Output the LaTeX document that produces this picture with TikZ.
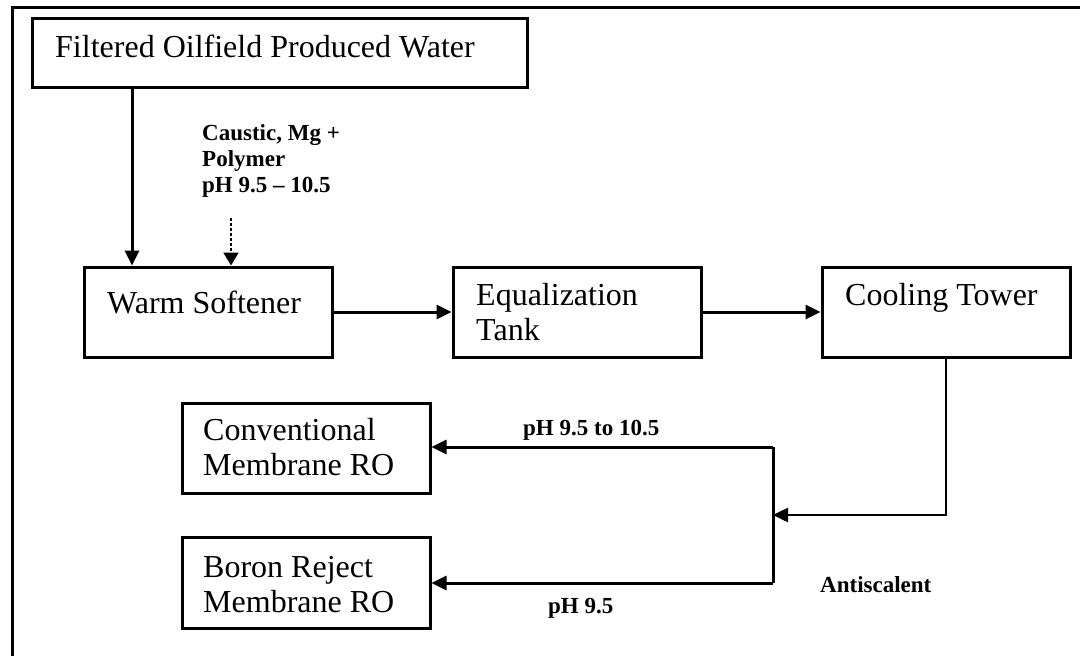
\documentclass[tikz,border=0pt]{standalone}
\usepackage{fontspec}
\setmainfont{Liberation Serif}
\usetikzlibrary{arrows.meta}
\begin{document}
\begin{tikzpicture}[x=1pt,y=-1pt,
  stagebox/.style={draw, line width=3pt, inner sep=0pt, minimum width=248pt, minimum height=90pt},
  boxtext/.style={inner sep=0pt, anchor=base west, align=left, font=\fontsize{32}{35}\selectfont},
  note/.style={inner sep=0pt, anchor=base west, align=left, font=\fontsize{23}{26}\selectfont\bfseries},
  flow/.style={line width=3pt, -{Triangle[length=15pt,width=14pt]}},
  dosing/.style={line width=2pt, dash pattern=on 3pt off 2pt, -{Triangle[length=13pt,width=15pt]}},
  pipe/.style={line width=3pt},
  frame/.style={line width=3pt}]
\useasboundingbox (0,0) rectangle (1080,656);

% page frame
\draw[frame] (12,656) -- (12,7) -- (1080,7);

% process units
\node[stagebox, minimum width=495pt, minimum height=69pt] (src) at (279.5,52.5) {};
\node[stagebox] (soft) at (208,312) {};
\node[stagebox] (eq) at (577,312) {};
\node[stagebox] (cool) at (946,312) {};
\node[stagebox] (conv) at (306,448) {};
\node[stagebox, minimum height=91pt] (boron) at (306,582.5) {};

% unit captions (multi-line captions are placed by their last baseline)
\node[boxtext] (srct) at (55,57) {Filtered Oilfield Produced Water};
\node[boxtext] (softt) at (107,313) {Warm Softener};
\node[boxtext] (eqt) at (476,340) {Equalization\\Tank};
\node[boxtext] (coolt) at (845,305) {Cooling Tower};
\node[boxtext] (convt) at (203,475) {Conventional\\Membrane RO};
\node[boxtext] (boront) at (203,612) {Boron Reject\\Membrane RO};

% chemical dosing and stream notes
\node[note] (chem) at (202,192) {Caustic, Mg +\\Polymer\\pH 9.5 – 10.5};
\node[note] (phhi) at (523,435) {pH 9.5 to 10.5};
\node[note] (phlo) at (548,613) {pH 9.5};
\node[note] (anti) at (820,592) {Antiscalent};

% connection points
\coordinate (feedx) at (132,0);
\coordinate (dose) at (231,218);
\coordinate (split) at (773,515);
\coordinate (splittop) at (773,447);
\coordinate (splitbot) at (773,583);

% flows
\draw[flow] (src.south -| feedx) -- (soft.north -| feedx);
\draw[dosing] (dose) -- (soft.north -| dose);
\draw[flow] (soft.east) -- (eq.west);
\draw[flow] (eq.east) -- (cool.west);
\draw[flow, line width=2.5pt] (cool.south) -- (cool.south |- split) -- (split);
\draw[pipe] (splittop) -- (splitbot);
\draw[flow] (splittop) -- (splittop -| conv.east);
\draw[flow] (splitbot) -- (splitbot -| boron.east);
\end{tikzpicture}
\end{document}
